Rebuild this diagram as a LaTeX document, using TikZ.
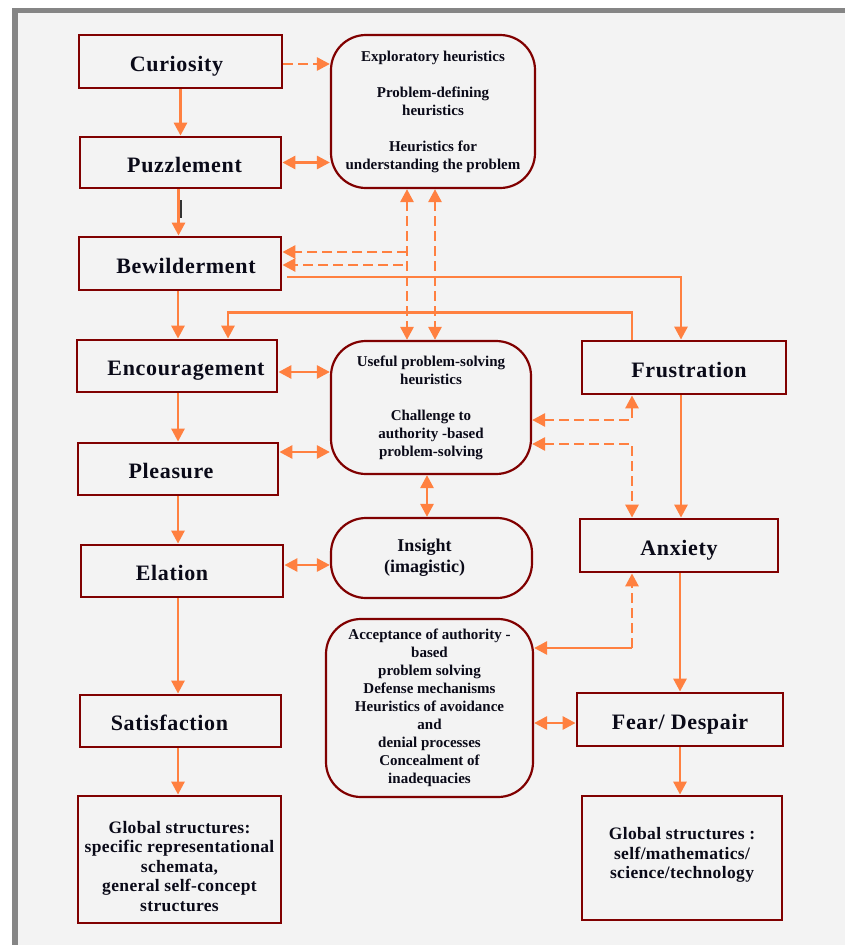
\documentclass[tikz,border=0pt]{standalone}
\usepackage{fontspec}
\setmainfont{Liberation Serif}
\usetikzlibrary{arrows.meta,calc}
\definecolor{boxred}{HTML}{800000}
\definecolor{arrorange}{HTML}{FF8040}
\definecolor{bgray}{HTML}{F3F3F3}
\definecolor{framegray}{HTML}{858585}
\definecolor{txt}{HTML}{0A0A18}
\begin{document}
\begin{tikzpicture}[x=1pt,y=-1pt,
  >={Triangle[length=13pt,width=13pt]},
  basebox/.style={draw=boxred,line width=2.8pt,rectangle,inner sep=0pt,align=center,text=txt},
  box/.style={basebox,text height=19pt,text depth=0pt,
    font=\fontsize{22}{26}\selectfont\bfseries\addfontfeature{LetterSpace=3}},
  gbox/.style={basebox,font=\fontsize{17.5}{19.5}\selectfont\bfseries\addfontfeature{LetterSpace=2}},
  rbox/.style={draw=boxred,line width=2.2pt,rectangle,rounded corners=35pt,inner sep=0pt,align=center,text=txt,
    font=\fontsize{15}{18}\selectfont\bfseries},
  con/.style={draw=arrorange,line width=2.8pt},
  arr/.style={con,->},
  darr/.style={con,<->},
  dsh/.style={dash pattern=on 10pt off 5pt}
]
\useasboundingbox (0,0) rectangle (845,945);
\fill[white] (0,0) rectangle (845,945);
\fill[bgray] (12,8) rectangle (845,945);
\fill[framegray] (12,8) rectangle (845,13);
\fill[framegray] (12,8) rectangle (18,945);

% left column
\node[box,minimum width=203pt,minimum height=53pt] (cur) at (180.5,61.5) {Curiosity\hspace*{8pt}};
\node[box,minimum width=201pt,minimum height=51pt] (puz) at (180.5,162.5) {\hspace*{8pt}Puzzlement};
\node[box,minimum width=202pt,minimum height=53pt] (bew) at (180,263.5) {\hspace*{12pt}Bewilderment};
\node[box,minimum width=200pt,minimum height=52pt] (enc) at (177,366) {\hspace*{18pt}Encouragement};
\node[box,minimum width=200pt,minimum height=52pt] (ple) at (178,469) {Pleasure\hspace*{14pt}};
\node[box,minimum width=202pt,minimum height=52pt] (ela) at (182,571) {Elation\hspace*{20pt}};
\node[box,minimum width=201pt,minimum height=52pt] (sat) at (180.5,721) {Satisfaction\hspace*{22pt}};
\node[gbox,minimum width=203pt,minimum height=127pt] (glL) at (179.5,859.5)
  {\rule{0pt}{26pt}Global structures:\\specific representational\\schemata,\\general self-concept\\structures};

% right column
\node[box,minimum width=204pt,minimum height=53pt] (fru) at (684,367.5) {\hspace*{10pt}Frustration};
\node[box,minimum width=198pt,minimum height=53pt] (anx) at (679,545.5) {Anxiety};
\node[box,minimum width=206pt,minimum height=53pt] (fea) at (680,719.5) {Fear/ Despair};
\node[gbox,minimum width=200pt,minimum height=124pt] (glR) at (682,858)
  {Global structures :\\self/mathematics/\\science/technology\rule[-10pt]{0pt}{0pt}};

% middle rounded boxes
\node[rbox,minimum width=204pt,minimum height=153pt] (heu) at (433,111.5)
  {Exploratory heuristics\\[18pt]Problem-defining\\heuristics\\[18pt]Heuristics for\\understanding the problem};
\node[rbox,minimum width=200pt,minimum height=133pt] (use) at (431,407.5)
  {Useful problem-solving\\heuristics\\[18pt]Challenge to\\authority -based\\problem-solving};
\node[rbox,minimum width=201pt,minimum height=80pt,font=\fontsize{18}{21}\selectfont\bfseries] (ins) at (431.5,558)
  {Insight\hspace*{14pt}\\(imagistic)\hspace*{14pt}};
\node[rbox,minimum width=207pt,minimum height=178pt] (acc) at (429.5,708)
  {Acceptance of authority -\\based\\problem solving\\Defense mechanisms\\Heuristics of avoidance\\and\\denial processes\\Concealment of\\inadequacies};

% left vertical chain
\draw[arr] (cur.south) -- (cur.south |- puz.north);
\draw[arr] ($(puz.south)+(-2,0)$) -- ($(bew.north)+(-1.5,0)$);
\draw[arr] ($(bew.south)+(-2,0)$) -- ($(enc.north)+(1,0)$);
\draw[arr] ($(enc.south)+(1,0)$) -- (ple.north);
\draw[arr] (ple.south) -- ($(ela.north)+(-4,0)$);
\draw[arr] ($(ela.south)+(-4,0)$) -- ($(sat.north)+(-2.5,0)$);
\draw[arr] ($(sat.south)+(-2.5,0)$) -- ($(glL.north)+(-1.5,0)$);
\draw[line width=1.2pt,black!80] (181,200) -- (181,218);

% right vertical chain
\draw[arr] ($(fru.south)+(-3,0)$) -- ($(anx.north)+(2,0)$);
\draw[arr] ($(anx.south)+(1,0)$) -- (fea.north);
\draw[arr] (fea.south) -- ($(glR.north)+(-2,0)$);

% top box links
\draw[arr,dsh] ($(cur.east)+(0,2.5)$) -- ($(cur.east -| heu.west)+(0,2.5)$);
\draw[darr] (puz.east) -- (puz.east -| heu.west);
\draw[darr,dsh] ($(heu.south)+(-26,0)$) -- ($(use.north)+(-24,0)$);
\draw[darr,dsh] ($(heu.south)+(2,0)$) -- ($(use.north)+(4,0)$);
\coordinate (v1) at (407,252);
\coordinate (v2) at (403,265);
\draw[arr,dsh] (v1) -- (v1 -| bew.east);
\draw[arr,dsh] (v2) -- (v2 -| bew.east);

% bewilderment -> frustration, frustration -> encouragement
\draw[arr] ($(bew.east)+(5,13.5)$) -| ($(fru.north)+(-3,0)$);
\draw[arr] ($(fru.north)+(-52,0)$) -- ++(0,-27) -| ($(enc.north)+(51,0)$);

% middle links
\draw[darr] ($(enc.east)+(0,6)$) -- ($(enc.east -| use.west)+(0,6)$);
\draw[darr] ($(ple.east)+(0,-17)$) -- ($(ple.east -| use.west)+(0,-17)$);
\draw[darr] ($(use.south)+(-4,0)$) -- ($(ins.north)+(-4.5,0)$);
\draw[darr] ($(ela.east)+(0,-6)$) -- ($(ela.east -| ins.west)+(0,-6)$);
\draw[darr,dsh] ($(use.east)+(0,12.5)$) -| ($(fru.south)+(-52,0)$);
\draw[darr,dsh] ($(use.east)+(0,36.5)$) -| ($(anx.north)+(-47,0)$);

% anxiety / acceptance / fear
\coordinate (k) at (632,648);
\draw[arr,dsh] (k) -- ($(anx.south)+(-47,0)$);
\draw[arr] (k) -- (k -| acc.east);
\draw[darr] ($(fea.west)+(0,3.5)$) -- ($(fea.west -| acc.east)+(0,3.5)$);
\end{tikzpicture}
\end{document}
